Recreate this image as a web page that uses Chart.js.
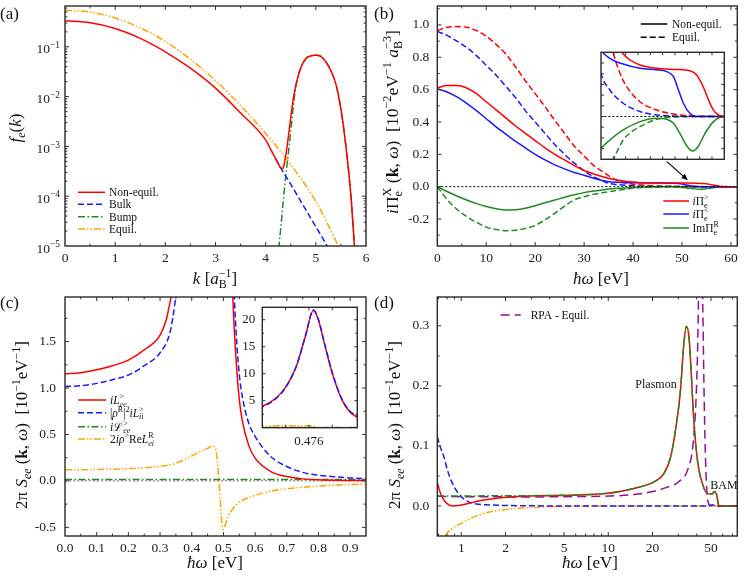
<!DOCTYPE html>
<html>
<head>
<meta charset="utf-8">
<script src="https://cdn.jsdelivr.net/npm/chart.js@4.4.0/dist/chart.umd.min.js"></script>
<style>
  body { margin: 0; background: #fff; }
  #fig { position: relative; width: 748px; height: 583px; overflow: hidden; background: #fff; }
  #fig canvas { position: absolute; }
</style>
</head>
<body>
<div id="fig">
  <canvas id="pa" width="374" height="290" style="left:0;top:0"></canvas>
  <canvas id="pb" width="374" height="290" style="left:374px;top:0"></canvas>
  <canvas id="pc" width="374" height="293" style="left:0;top:290px"></canvas>
  <canvas id="pd" width="374" height="293" style="left:374px;top:290px"></canvas>
  <canvas id="ib" width="132" height="116" style="left:597px;top:48px"></canvas>
  <canvas id="ic" width="140" height="150" style="left:222px;top:300px"></canvas>
</div>
<script>
const FONT = '"Liberation Serif", "DejaVu Serif", serif';
Chart.defaults.font.family = FONT;

// ---- (a) momentum distribution f_e(k) ----
const kNon = [0, 0.5, 1, 1.5, 2, 2.5, 3, 3.5, 4, 4.1, 4.2, 4.25, 4.3, 4.33, 4.36, 4.4, 4.45, 4.5, 4.55, 4.6, 4.7, 4.8, 4.9, 5.0, 5.1, 5.2, 5.3, 5.4, 5.5, 5.6, 5.7, 5.77];
const fNon = [0.333, 0.303, 0.234, 0.148, 0.0794, 0.0372, 0.0148, 0.00468, 0.00135, 8.7e-4, 5.6e-4, 4.5e-4, 3.7e-4, 3.6e-4, 4.0e-4, 6.5e-4, 1.5e-3, 3.8e-3, 8.9e-3, 0.0166, 0.038, 0.0575, 0.066, 0.068, 0.0646, 0.050, 0.033, 0.0178, 0.0056, 1.0e-3, 1.0e-4, 1.0e-5];
const kBulk = [4.2, 4.3, 4.5, 4.7, 4.9, 5.1, 5.25];
const fBulk = [5.6e-4, 3.7e-4, 1.74e-4, 7.9e-5, 3.6e-5, 1.66e-5, 9.1e-6];
const kBump = [4.26, 4.3, 4.35, 4.4, 4.45, 4.5, 4.55, 4.6, 4.7, 4.8, 4.9, 5.0, 5.1, 5.2, 5.3, 5.4, 5.5, 5.6, 5.7, 5.77];
const fBump = [8.9e-6, 2.24e-5, 7.9e-5, 2.5e-4, 7.1e-4, 2.0e-3, 6.3e-3, 0.0158, 0.038, 0.0575, 0.066, 0.068, 0.0646, 0.050, 0.033, 0.0178, 0.0056, 1.0e-3, 1.0e-4, 1.0e-5];
const kEq = [0, 0.5, 1, 1.5, 2, 2.5, 3, 3.5, 4, 4.5, 5, 5.45];
const fEq = [0.543, 0.501, 0.380, 0.240, 0.129, 0.0562, 0.0209, 6.6e-3, 1.82e-3, 4.27e-4, 7.9e-5, 1.0e-5];

// ---- (b) polarisation functions ----
const wRedNe = [0, 2, 4, 6, 8, 10, 12, 14, 16, 18, 20, 22, 24, 26, 28, 30, 32, 34, 36, 38, 39.2, 40.9, 42.9, 46.3, 50.3, 53, 54.4, 55.7, 56.8, 57.8, 58.8, 60, 61.3];
const vRedNe = [0.61, 0.625, 0.625, 0.61, 0.575, 0.525, 0.475, 0.425, 0.375, 0.33, 0.285, 0.24, 0.20, 0.165, 0.13, 0.10, 0.078, 0.06, 0.045, 0.035, 0.03, 0.0264, 0.0241, 0.0225, 0.022, 0.0214, 0.0194, 0.014, 0.0078, 0.003, 0.0007, 0, 0];
const wBlueNe = [0, 2, 4, 6, 8, 10, 12, 14, 16, 18, 20, 22, 24, 26, 28, 30, 32, 34, 35, 36.8, 39.5, 42.9, 46.3, 48.3, 49.7, 50.7, 51.7, 53, 54.4, 60, 61.3];
const vBlueNe = [0.605, 0.585, 0.555, 0.515, 0.47, 0.42, 0.37, 0.325, 0.28, 0.24, 0.20, 0.165, 0.135, 0.11, 0.088, 0.07, 0.052, 0.036, 0.031, 0.0272, 0.0245, 0.0225, 0.0218, 0.021, 0.0186, 0.0124, 0.0062, 0.0015, 0, 0, 0];
const wGreenNe = [0, 2, 4, 6, 8, 10, 12, 14, 16, 18, 20, 22, 24, 26, 28, 30, 32, 34, 35, 36.8, 39.5, 42.9, 46.3, 48.3, 49.7, 51, 52.4, 53.6, 54.7, 56.1, 57.8, 60, 61.3];
const vGreenNe = [0, -0.03, -0.058, -0.083, -0.105, -0.123, -0.137, -0.145, -0.143, -0.133, -0.118, -0.1, -0.083, -0.065, -0.05, -0.037, -0.027, -0.019, -0.015, -0.011, -0.0063, -0.0024, -0.0008, -0.0013, -0.0032, -0.0079, -0.0138, -0.0161, -0.014, -0.0079, -0.0024, 0, 0];
const wRedEq = [0, 2, 4, 6, 8, 10, 12, 14, 16, 18, 20, 22, 24, 26, 28, 30, 32, 34, 36, 37.5, 38.85, 40.2, 42.9, 46.3, 49.7, 53, 56, 60, 61.3];
const vRedEq = [0.965, 0.985, 0.99, 0.985, 0.965, 0.93, 0.88, 0.82, 0.74, 0.655, 0.575, 0.495, 0.41, 0.33, 0.25, 0.19, 0.13, 0.088, 0.05, 0.03, 0.0202, 0.014, 0.0069, 0.003, 0.0012, 0.0003, 0.0001, 0, 0];
const wBlueEq = [0, 2, 4, 6, 8, 10, 12, 14, 16, 18, 20, 22, 24, 26, 28, 30, 32, 34, 35, 36.8, 39.5, 42.9, 46.3, 50, 55, 60, 61.3];
const vBlueEq = [0.96, 0.935, 0.90, 0.86, 0.81, 0.75, 0.69, 0.62, 0.55, 0.47, 0.40, 0.33, 0.26, 0.20, 0.145, 0.098, 0.06, 0.033, 0.0202, 0.0124, 0.0062, 0.0023, 0.0007, 0.0002, 0, 0, 0];
const wGreenEq = [0, 2, 4, 6, 8, 10, 12, 14, 16, 18, 20, 22, 24, 26, 28, 30, 32, 34, 36, 37.5, 39.5, 41, 42.9, 46.3, 49.7, 55, 60, 61.3];
const vGreenEq = [0, -0.08, -0.14, -0.185, -0.22, -0.25, -0.265, -0.272, -0.27, -0.258, -0.24, -0.205, -0.165, -0.12, -0.082, -0.062, -0.047, -0.036, -0.027, -0.02, -0.011, -0.0075, -0.0047, -0.0013, -0.0003, 0, 0, 0];
const wZeroB = [0, 61.3];
const vZeroB = [0, 0];

// ---- (c) structure factor contributions, low frequency ----
const wRedC = [0, 0.05, 0.1, 0.15, 0.2, 0.25, 0.3, 0.32, 0.33, 0.34, 0.36, 0.38, 0.4, 0.424, 0.44, 0.451, 0.462, 0.472, 0.481, 0.4865, 0.494, 0.503, 0.5125, 0.522, 0.53, 0.54, 0.55, 0.56, 0.58, 0.6, 0.65, 0.7, 0.75, 0.8, 0.85, 0.9, 0.95];
const vRedC = [1.153, 1.165, 1.196, 1.24, 1.30, 1.41, 1.57, 1.74, 1.9, 2.05, 2.3, 2.6, 3.1, 3.97, 5.6, 7.75, 11.4, 16.9, 21.7, 20.0, 15.1, 9.6, 5.3, 2.85, 1.95, 1.3, 0.88, 0.64, 0.38, 0.245, 0.10, 0.047, 0.022, 0.012, 0.007, 0.005, 0.004];
const wBlueC = [0, 0.05, 0.1, 0.15, 0.2, 0.25, 0.3, 0.33, 0.34, 0.35, 0.38, 0.4, 0.424, 0.44, 0.451, 0.462, 0.472, 0.481, 0.4865, 0.494, 0.503, 0.5125, 0.522, 0.53, 0.54, 0.55, 0.56, 0.58, 0.6, 0.65, 0.7, 0.75, 0.8, 0.85, 0.9, 0.95];
const vBlueC = [1.017, 1.025, 1.05, 1.09, 1.14, 1.24, 1.38, 1.58, 1.75, 1.98, 2.5, 3.0, 3.85, 5.5, 7.7, 11.4, 16.9, 21.8, 20.1, 15.2, 9.7, 5.4, 3.0, 2.3, 1.6, 1.15, 0.9, 0.62, 0.48, 0.26, 0.155, 0.092, 0.062, 0.045, 0.032, 0.025];
const wGreenC = [0, 0.1, 0.2, 0.3, 0.4, 0.5, 0.6, 0.7, 0.8, 0.9, 0.95];
const vGreenC = [0.016, 0.016, 0.016, 0.016, 0.016, 0.016, 0.015, 0.015, 0.015, 0.015, 0.015];
const wOrC = [0, 0.1, 0.2, 0.25, 0.3, 0.35, 0.4, 0.43, 0.45, 0.465, 0.472, 0.478, 0.485, 0.49, 0.495, 0.5, 0.505, 0.515, 0.53, 0.55, 0.6, 0.65, 0.7, 0.75, 0.8, 0.85, 0.9, 0.95];
const vOrC = [0.119, 0.123, 0.132, 0.14, 0.158, 0.19, 0.27, 0.32, 0.35, 0.375, 0.37, 0.3, 0.05, -0.2, -0.45, -0.52, -0.48, -0.38, -0.3, -0.23, -0.155, -0.11, -0.085, -0.068, -0.055, -0.045, -0.038, -0.032];
const wZeroC = [0, 0.95];
const vZeroC = [0, 0];

// ---- (d) structure factor, log frequency ----
const wRedD = [0.687, 0.72, 0.76, 0.8, 0.87, 0.95, 1.0, 1.2, 1.43, 2.05, 3.43, 5.8, 9.8, 13.5, 16.6, 20.5, 23.9, 26.6, 28.7, 31, 32.7, 34, 35.4, 36.7, 38.3, 40.7, 43.6, 47.1, 51, 52.4, 54.4, 56.7, 60, 75.5];
const vRedD = [0.039, 0.022, 0.01, 0.004, 0.0, 0.0006, 0.0017, 0.006, 0.01, 0.0144, 0.017, 0.018, 0.021, 0.0267, 0.032, 0.04, 0.054, 0.082, 0.127, 0.193, 0.271, 0.299, 0.282, 0.221, 0.138, 0.071, 0.038, 0.021, 0.02, 0.024, 0.02, 0.0, 0, 0];
const wGreenD = [0.687, 1, 2, 3, 5, 9.8, 13.5, 16.6, 20.5, 23.9, 26.6, 28.7, 31, 32.7, 34, 35.4, 36.7, 38.3, 40.7, 43.6, 47.1, 51, 52.4, 54.4, 56.7, 60, 75.5];
const vGreenD = [0.0167, 0.0167, 0.017, 0.0172, 0.018, 0.021, 0.0267, 0.032, 0.04, 0.054, 0.082, 0.127, 0.193, 0.271, 0.299, 0.282, 0.221, 0.138, 0.071, 0.038, 0.021, 0.02, 0.024, 0.02, 0.0, 0, 0];
const wBlueD = [0.687, 0.72, 0.762, 0.8, 0.869, 1.0, 1.2, 1.56, 2, 3, 5, 10, 20, 40, 48, 51, 54, 60, 75.5];
const vBlueD = [0.1156, 0.098, 0.082, 0.062, 0.038, 0.0156, 0.0044, 0.0017, 0.0008, 0.0003, 0, 0, 0, 0, 0, 0.002, 0, 0, 0];
const wOrD = [0.687, 0.693, 0.72, 0.78, 0.9, 1.0, 1.2, 1.43, 2.05, 3.4, 5, 10, 75.5];
const vOrD = [0.115, -0.3, -0.1, -0.05, -0.035, -0.029, -0.019, -0.012, -0.0056, -0.002, -0.0008, 0, 0];
const wPurD = [0.687, 1, 2, 3, 5, 10, 15, 20, 25, 30, 35, 38, 40, 41, 42, 43, 44, 45, 46, 47, 48, 50, 55, 75.5];
const vPurD = [0.016, 0.0155, 0.0152, 0.015, 0.0155, 0.0165, 0.019, 0.024, 0.031, 0.04, 0.063, 0.11, 0.21, 0.33, 0.6, 0.5, 0.33, 0.17, 0.07, 0.02, 0.005, 0, 0, 0];

// ---- tick positions ----
const aXTicks = [0, 1, 2, 3, 4, 5, 6];
const aYTicks = [1e-5, 1e-4, 1e-3, 1e-2, 1e-1];
const bXTicks = [0, 10, 20, 30, 40, 50, 60];
const bYTicks = [-0.2, 0, 0.2, 0.4, 0.6, 0.8, 1.0];
const cXTicks = [0, 0.1, 0.2, 0.3, 0.4, 0.5, 0.6, 0.7, 0.8, 0.9];
const cYTicks = [-0.5, 0, 0.5, 1.0, 1.5];
const dXTicks = [1, 2, 5, 10, 20, 50];
const dYTicks = [0, 0.1, 0.2, 0.3];
const ibXTicks = [35, 37.5, 40, 42.5, 45, 47.5, 50, 52.5, 55, 57.5, 60];
const ibYTicks = [-0.02, -0.015, -0.01, -0.005, 0, 0.005, 0.01, 0.015, 0.02, 0.025, 0.03];
const icXTicks = [0.45, 0.476, 0.502];
const icYTicks = [5, 10, 15, 20];

const RED = '#ff0000', BLUE = '#1a1aff', GREEN = '#1f8a1f', ORANGE = '#ffa500', PURPLE = '#930f93';
const DASH = [6, 3], DASHDOT = [7, 2.5, 1.5, 2.5], DASHDOTDOT = [7, 2, 1.5, 2, 1.5, 2], DOT = [2, 2], LONG = [9, 5];

const pts = (xs, ys) => xs.map((x, i) => ({ x, y: ys[i] }));
const line = (xs, ys, color, dash, width) => ({
  data: pts(xs, ys), borderColor: color, borderDash: dash || [], borderWidth: width || 1.5,
  pointRadius: 0, fill: false, cubicInterpolationMode: 'monotone'
});

// draws text with italic / bold / super- and subscript runs
function rich(ctx, parts, x, y, size, align, rot, color) {
  ctx.save();
  ctx.translate(x, y);
  if (rot) ctx.rotate(rot);
  const segs = [];
  let w = 0, start = 0;
  for (const [t, f = ''] of parts) {
    const small = /[\^_]/.test(f);
    const fs = small ? size * 0.7 : size;
    ctx.font = (f.includes('i') ? 'italic ' : '') + (f.includes('b') ? 'bold ' : '') + fs + 'px ' + FONT;
    const tw = ctx.measureText(t).width;
    let sx;
    if (f.includes('s')) { sx = start; w = Math.max(w, sx + tw); }
    else { sx = w; start = sx; w = sx + tw; }
    segs.push({ t, font: ctx.font, sx, dy: f.includes('^') ? -size * 0.4 : f.includes('_') ? size * 0.24 : 0 });
  }
  const x0 = align === 'center' ? -w / 2 : align === 'right' ? -w : 0;
  ctx.fillStyle = color || '#111';
  ctx.textBaseline = 'alphabetic';
  ctx.textAlign = 'left';
  for (const s of segs) { ctx.font = s.font; ctx.fillText(s.t, x0 + s.sx, size * 0.34 + s.dy); }
  ctx.restore();
}

const decMinor = [];
[1e-5, 1e-4, 1e-3, 1e-2, 1e-1].forEach(d => [2, 3, 4, 5, 6, 7, 8, 9].forEach(m => decMinor.push(m * d)));
const R90 = -Math.PI / 2;
const yTitleS = [['2π ', ''], ['S', 'i'], ['ee', 'i_'], [' (', ''], ['k', 'b'], [', ', ''], ['ω', 'i'], [')  [10', ''], ['−1', '^'], ['eV', ''], ['−1', '^'], [']', '']];
const xTitleW = [['ħω', 'i'], [' [eV]', '']];

const extras = {
  pa: {
    xMinor: [0.5, 1.5, 2.5, 3.5, 4.5, 5.5], yMinor: decMinor, yPow: true,
    texts: [
      { parts: [['(a)', '']], x: 0, y: 13, size: 17 },
      { parts: [['f', 'i'], ['e', 'i_'], ['(', ''], ['k', 'i'], [')', '']], x: 15, y: 128, size: 17, align: 'center', rot: R90 },
      { parts: [['k', 'i'], [' [', ''], ['a', 'i'], ['−1', '^'], ['B', '_s'], [']', '']], x: 215, y: 278, size: 17, align: 'center' }
    ],
    keys: [
      { color: RED, dash: [], x1: 78, x2: 105, tx: 109, y: 192.3, label: [['Non-equil.', '']] },
      { color: BLUE, dash: DASH, x1: 78, x2: 105, tx: 109, y: 204.3, label: [['Bulk', '']] },
      { color: GREEN, dash: DASHDOT, x1: 78, x2: 105, tx: 109, y: 216.7, label: [['Bump', '']] },
      { color: ORANGE, dash: DASHDOTDOT, x1: 78, x2: 105, tx: 109, y: 229, label: [['Equil.', '']] }
    ]
  },
  pb: {
    xMinor: [5, 15, 25, 35, 45, 55], yMinor: [-0.3, -0.1, 0.1, 0.3, 0.5, 0.7, 0.9, 1.1],
    texts: [
      { parts: [['(b)', '']], x: 0, y: 13, size: 17 },
      { parts: [['i', 'i'], ['Π', ''], ['X', '^'], ['e', '_s'], [' (', ''], ['k', 'b'], [', ', ''], ['ω', 'i'], [')  [10', ''], ['−2', '^'], ['eV', ''], ['−1', '^'], [' ', ''], ['a', 'i'], ['−3', '^'], ['B', '_s'], [']', '']], x: 18, y: 122, size: 17.5, align: 'center', rot: R90 },
      { parts: xTitleW, x: 227, y: 278, size: 17, align: 'center' }
    ],
    keys: [
      { color: '#000', dash: [], x1: 266.7, x2: 293.3, tx: 298, y: 24, label: [['Non-equil.', '']] },
      { color: '#000', dash: DASH, x1: 266.7, x2: 293.3, tx: 298, y: 37.3, label: [['Equil.', '']] },
      { color: RED, dash: [], x1: 289.3, x2: 315, tx: 318.5, y: 201, label: [['i', 'i'], ['Π', ''], ['>', '^'], ['e', '_s']] },
      { color: BLUE, dash: [], x1: 289.3, x2: 315, tx: 318.5, y: 214, label: [['i', 'i'], ['Π', ''], ['<', '^'], ['e', '_s']] },
      { color: GREEN, dash: [], x1: 289.3, x2: 315, tx: 318.5, y: 228, label: [['ImΠ', ''], ['R', '^'], ['e', '_s']] }
    ],
    arrow: [[46.9, 0.155], [51.2, 0.04]]
  },
  pc: {
    xMinor: [0.05, 0.15, 0.25, 0.35, 0.45, 0.55, 0.65, 0.75, 0.85], yMinor: [-0.25, 0.25, 0.75, 1.25, 1.75],
    texts: [
      { parts: [['(c)', '']], x: 0, y: 12.5, size: 17 },
      { parts: yTitleS, x: 21, y: 135, size: 17, align: 'center', rot: R90 },
      { parts: xTitleW, x: 215, y: 272, size: 17, align: 'center' }
    ],
    keys: [
      { color: RED, dash: [], x1: 78, x2: 106, tx: 110, y: 110, label: [['i', 'i'], ['L', 'i'], ['>', '^'], ['ee', 'i_s']] },
      { color: BLUE, dash: DASH, x1: 78, x2: 106, tx: 110, y: 122.7, label: [['|', ''], ['ρ', 'i'], ['R', '^'], ['|', ''], ['2', '^'], ['i', 'i'], ['L', 'i'], ['>', '^'], ['ii', 'i_s']] },
      { color: GREEN, dash: DASHDOT, x1: 78, x2: 106, tx: 110, y: 136.7, label: [['i', 'i'], ['ℒ', ''], ['>', '^'], ['ee', 'i_s']] },
      { color: ORANGE, dash: DASHDOTDOT, x1: 78, x2: 106, tx: 110, y: 149, label: [['2', ''], ['i', 'i'], ['ρ', 'i'], ['>', '^'], ['Re', ''], ['L', 'i'], ['R', '^'], ['ei', 'i_s']] }
    ]
  },
  pd: {
    xMinor: [0.7, 0.8, 0.9, 3, 4, 6, 7, 8, 9, 30, 40, 60, 70], yMinor: [0.05, 0.15, 0.25],
    texts: [
      { parts: [['(d)', '']], x: 0, y: 12.5, size: 17 },
      { parts: yTitleS, x: 20, y: 135, size: 17, align: 'center', rot: R90 },
      { parts: xTitleW, x: 216, y: 272, size: 17, align: 'center' },
      { parts: [['Plasmon', '']], x: 282, y: 94, size: 12, align: 'center' },
      { parts: [['BAM', '']], x: 350, y: 195, size: 12, align: 'center' }
    ],
    keys: [
      { color: PURPLE, dash: LONG, x1: 126.7, x2: 146.7, tx: 156.7, y: 25, label: [['RPA - Equil.', '']] }
    ]
  },
  ib: { fill: true, tick: 3 },
  ic: { fill: true, tick: 3, yMinor: [2.5, 7.5, 12.5, 17.5, 22.5] }
};

const framePlugin = {
  id: 'frame',
  beforeDraw(chart) {
    const ex = extras[chart.canvas.id];
    if (ex && ex.fill) {
      const a = chart.chartArea;
      chart.ctx.save();
      chart.ctx.fillStyle = '#fff';
      chart.ctx.fillRect(a.left, a.top, a.right - a.left, a.bottom - a.top);
      chart.ctx.restore();
    }
  },
  afterDatasetsDraw(chart) {
    const ex = extras[chart.canvas.id] || {};
    const { ctx, chartArea: a, scales: { x, y } } = chart;
    const big = ex.tick || 4, small = big * 0.6;
    ctx.save();
    ctx.strokeStyle = '#333';
    ctx.lineWidth = 1;
    ctx.beginPath();
    const vx = (vals, len) => vals.forEach(v => {
      const p = x.getPixelForValue(v);
      if (p < a.left + 1 || p > a.right - 1) return;
      ctx.moveTo(p, a.top); ctx.lineTo(p, a.top + len);
      ctx.moveTo(p, a.bottom); ctx.lineTo(p, a.bottom - len);
    });
    const vy = (vals, len) => vals.forEach(v => {
      const p = y.getPixelForValue(v);
      if (p < a.top + 1 || p > a.bottom - 1) return;
      ctx.moveTo(a.left, p); ctx.lineTo(a.left + len, p);
      ctx.moveTo(a.right, p); ctx.lineTo(a.right - len, p);
    });
    vx(x.ticks.map(t => t.value), big);
    vy(y.ticks.map(t => t.value), big);
    vx(ex.xMinor || [], small);
    vy(ex.yMinor || [], small);
    ctx.stroke();
    ctx.lineWidth = 1.4;
    ctx.strokeStyle = '#2a2a2a';
    ctx.strokeRect(a.left, a.top, a.right - a.left, a.bottom - a.top);
    ctx.restore();
  }
};

const notesPlugin = {
  id: 'notes',
  afterDraw(chart) {
    const ex = extras[chart.canvas.id];
    if (!ex) return;
    const ctx = chart.ctx;
    if (ex.yPow) {
      const y = chart.scales.y, a = chart.chartArea;
      y.ticks.forEach(t => {
        const n = -Math.round(Math.log10(t.value));
        rich(ctx, [['10', ''], ['−' + n, '^']], a.left - 5, y.getPixelForValue(t.value) + 2, 13.5, 'right', 0, '#222');
      });
    }
    (ex.keys || []).forEach(k => {
      ctx.save();
      ctx.strokeStyle = k.color; ctx.lineWidth = 1.5; ctx.setLineDash(k.dash);
      ctx.beginPath(); ctx.moveTo(k.x1, k.y); ctx.lineTo(k.x2, k.y); ctx.stroke();
      ctx.restore();
      rich(ctx, k.label, k.tx, k.y, 11.5, 'left', 0);
    });
    (ex.texts || []).forEach(t => rich(ctx, t.parts, t.x, t.y, t.size, t.align || 'left', t.rot || 0));
    if (ex.arrow) {
      const { x, y } = chart.scales;
      const x1 = x.getPixelForValue(ex.arrow[0][0]), y1 = y.getPixelForValue(ex.arrow[0][1]);
      const x2 = x.getPixelForValue(ex.arrow[1][0]), y2 = y.getPixelForValue(ex.arrow[1][1]);
      const ang = Math.atan2(y2 - y1, x2 - x1);
      ctx.save();
      ctx.strokeStyle = '#000'; ctx.fillStyle = '#000'; ctx.lineWidth = 1.2;
      ctx.beginPath(); ctx.moveTo(x1, y1); ctx.lineTo(x2 - 5 * Math.cos(ang), y2 - 5 * Math.sin(ang)); ctx.stroke();
      ctx.beginPath();
      ctx.moveTo(x2, y2);
      ctx.lineTo(x2 - 7 * Math.cos(ang - 0.4), y2 - 7 * Math.sin(ang - 0.4));
      ctx.lineTo(x2 - 7 * Math.cos(ang + 0.4), y2 - 7 * Math.sin(ang + 0.4));
      ctx.closePath(); ctx.fill();
      ctx.restore();
    }
  }
};

function axis(type, min, max, ticks, fmt, size, pad, fontSize) {
  return {
    type, min, max,
    afterBuildTicks: s => { s.ticks = ticks.map(v => ({ value: v })); },
    afterFit: s => {
      if (s.isHorizontal()) { s.height = size; s.paddingLeft = 0; s.paddingRight = 0; }
      else { s.width = size; s.paddingTop = 0; s.paddingBottom = 0; }
    },
    grid: { display: false, drawTicks: false },
    border: { display: false },
    ticks: {
      display: !!fmt, callback: fmt || (() => ''), padding: pad || 0, autoSkip: false,
      maxRotation: 0, minRotation: 0, color: '#222', font: { family: FONT, size: fontSize || 13.5 }
    }
  };
}

const fix1 = v => (Math.abs(v) < 1e-9 ? 0 : v).toFixed(1);

function panel(id, datasets, pad, xAxis, yAxis) {
  return new Chart(document.getElementById(id), {
    type: 'line',
    data: { datasets },
    options: {
      responsive: false, animation: false, events: [],
      layout: { padding: pad },
      plugins: { legend: { display: false }, tooltip: { enabled: false } },
      scales: { x: xAxis, y: yAxis }
    },
    plugins: [framePlugin, notesPlugin]
  });
}

// (a)  y tick labels are drawn by the notes plugin as 10^-n
panel('pa', [
  line(kNon, fNon, RED, []),
  line(kBulk, fBulk, BLUE, DASH),
  line(kBump, fBump, GREEN, DASHDOT),
  line(kEq, fEq, ORANGE, DASHDOTDOT)
], { left: 0, top: 6, right: 8, bottom: 0 },
  axis('linear', 0, 6, aXTicks, v => String(v), 44, 4),
  axis('logarithmic', 1e-5, 0.66, aYTicks, null, 65, 5));

// (b) main and inset share the same series
const bSets = () => [
  line(wZeroB, vZeroB, '#000', DOT, 1),
  line(wRedNe, vRedNe, RED, []),
  line(wBlueNe, vBlueNe, BLUE, []),
  line(wGreenNe, vGreenNe, GREEN, []),
  line(wRedEq, vRedEq, RED, DASH),
  line(wBlueEq, vBlueEq, BLUE, DASH),
  line(wGreenEq, vGreenEq, GREEN, DASH)
];
panel('pb', bSets(), { left: 0, top: 6, right: 10.7, bottom: 0 },
  axis('linear', 0, 61.3, bXTicks, v => String(v), 44, 4),
  axis('linear', -0.367, 1.117, bYTicks, fix1, 63.3, 8));
panel('ib', bSets(), { left: 4, top: 4.3, right: 4.7, bottom: 4.7 },
  axis('linear', 35, 60, ibXTicks, null, 0, 0),
  axis('linear', -0.02, 0.03, ibYTicks, null, 0, 0));

// (c) main and inset share the same series (blue dashed drawn over red)
const cSets = () => [
  line(wBlueC, vBlueC, BLUE, DASH),
  line(wRedC, vRedC, RED, []),
  line(wGreenC, vGreenC, GREEN, DASHDOT),
  line(wOrC, vOrC, ORANGE, DASHDOTDOT),
  line(wZeroC, vZeroC, '#777', DOT, 1)
];
panel('pc', cSets(), { left: 0, top: 7, right: 8, bottom: 0 },
  axis('linear', 0, 0.95, cXTicks, fix1, 47, 4),
  axis('linear', -0.593, 1.98, cYTicks, fix1, 65, 9));
panel('ic', cSets(), { left: 0, top: 7.3, right: 4.7, bottom: 0 },
  axis('linear', 0.424, 0.53, icXTicks, v => Math.abs(v - 0.476) < 1e-6 ? '0.476' : '', 22.3, 6, 13),
  axis('linear', 0, 22.3, icYTicks, v => String(v), 40.3, 7, 13));

// (d)
panel('pd', [
  line(wGreenD, vGreenD, GREEN, DASHDOT),
  line(wRedD, vRedD, RED, []),
  line(wBlueD, vBlueD, BLUE, DASH),
  line(wOrD, vOrD, ORANGE, DASHDOTDOT),
  line(wPurD, vPurD, PURPLE, LONG)
], { left: 0, top: 7, right: 10.7, bottom: 0 },
  axis('logarithmic', 0.687, 75.5, dXTicks, v => String(v), 47, 4),
  axis('linear', -0.05, 0.348, dYTicks, fix1, 63.3, 8));
</script>
</body>
</html>
